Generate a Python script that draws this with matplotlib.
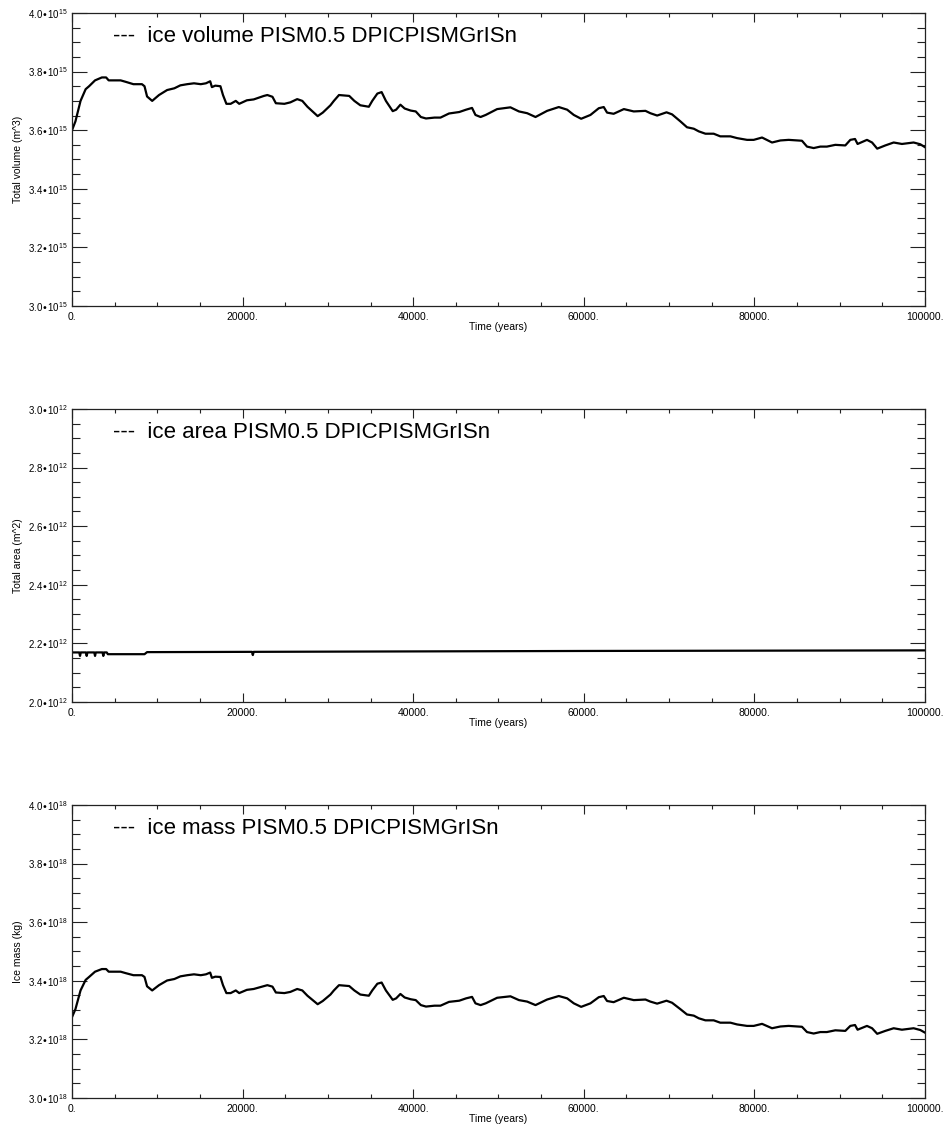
import matplotlib
matplotlib.use("Agg")
import matplotlib.pyplot as plt
from matplotlib.ticker import MultipleLocator, FuncFormatter

plt.rcParams['font.family'] = ['Liberation Sans', 'DejaVu Sans']
plt.rcParams['mathtext.default'] = 'regular'

# time axis (years) for volume / mass curves
years = [0, 400, 1000, 1600, 2000, 2700, 3500, 4000, 4300, 5700,
         6300, 7200, 8200, 8500, 8800, 9400, 10200, 11150, 12000, 12700,
         13500, 14300, 15100, 15700, 16200, 16400, 16800, 17400, 17700, 18100,
         18600, 19200, 19600, 20500, 21300, 22500, 22900, 23500, 23900, 24900,
         25600, 26400, 27000, 27600, 28800, 29400, 30300, 30700, 31300, 32500,
         33100, 33800, 34800, 35200, 35800, 36300, 36800, 37600, 38000, 38500,
         39000, 39700, 40300, 40900, 41500, 42500, 43200, 44200, 45400, 46200,
         46900, 47300, 47900, 48500, 49840, 51400, 52400, 53360, 54340, 55700,
         57070, 58050, 58830, 59690, 60780, 61760, 62340, 62730, 63500, 64700,
         65860, 67230, 67800, 68600, 69700, 70350, 71330, 72100, 72900, 73480,
         74260, 75230, 76000, 77190, 77970, 79140, 79920, 80900, 82070, 83050,
         84020, 85580, 86170, 86950, 87730, 88500, 89490, 90660, 91250, 91800,
         92100, 93200, 93800, 94400, 95350, 96330, 97300, 98670, 99450, 100000]

# total ice volume, units of 1e15 m^3
volume = [3.600, 3.630, 3.700, 3.740, 3.750, 3.770, 3.780, 3.780, 3.770, 3.770,
          3.765, 3.757, 3.757, 3.750, 3.715, 3.700, 3.720, 3.737, 3.743, 3.753,
          3.757, 3.760, 3.757, 3.760, 3.767, 3.747, 3.752, 3.750, 3.720, 3.690,
          3.690, 3.700, 3.690, 3.702, 3.705, 3.717, 3.720, 3.714, 3.692, 3.690,
          3.695, 3.706, 3.700, 3.680, 3.648, 3.660, 3.685, 3.700, 3.720, 3.717,
          3.700, 3.685, 3.680, 3.700, 3.725, 3.730, 3.700, 3.665, 3.670, 3.687,
          3.674, 3.667, 3.664, 3.645, 3.640, 3.643, 3.643, 3.657, 3.662, 3.670,
          3.676, 3.652, 3.645, 3.652, 3.672, 3.678, 3.664, 3.658, 3.645, 3.666,
          3.679, 3.670, 3.652, 3.639, 3.652, 3.675, 3.679, 3.660, 3.656, 3.672,
          3.664, 3.666, 3.658, 3.650, 3.661, 3.654, 3.630, 3.610, 3.605, 3.596,
          3.588, 3.588, 3.579, 3.579, 3.573, 3.567, 3.567, 3.575, 3.558, 3.565,
          3.567, 3.564, 3.544, 3.539, 3.544, 3.544, 3.550, 3.548, 3.567, 3.570,
          3.553, 3.567, 3.558, 3.537, 3.548, 3.558, 3.553, 3.558, 3.552, 3.542]

# ice mass, units of 1e18 kg
mass = [3.276, 3.303, 3.367, 3.403, 3.413, 3.431, 3.440, 3.440, 3.431, 3.431,
        3.426, 3.419, 3.419, 3.413, 3.381, 3.367, 3.385, 3.401, 3.406, 3.415,
        3.419, 3.422, 3.419, 3.422, 3.428, 3.410, 3.414, 3.413, 3.385, 3.358,
        3.358, 3.367, 3.358, 3.369, 3.372, 3.382, 3.385, 3.380, 3.360, 3.358,
        3.362, 3.372, 3.367, 3.349, 3.320, 3.331, 3.353, 3.367, 3.385, 3.382,
        3.367, 3.353, 3.349, 3.367, 3.390, 3.394, 3.367, 3.335, 3.340, 3.355,
        3.343, 3.337, 3.334, 3.317, 3.312, 3.315, 3.315, 3.328, 3.332, 3.340,
        3.345, 3.323, 3.317, 3.323, 3.342, 3.347, 3.334, 3.329, 3.317, 3.336,
        3.348, 3.340, 3.323, 3.311, 3.323, 3.344, 3.348, 3.331, 3.327, 3.342,
        3.334, 3.336, 3.329, 3.322, 3.332, 3.325, 3.303, 3.285, 3.281, 3.272,
        3.265, 3.265, 3.257, 3.257, 3.251, 3.246, 3.246, 3.253, 3.238, 3.244,
        3.246, 3.243, 3.225, 3.220, 3.225, 3.225, 3.231, 3.229, 3.246, 3.249,
        3.233, 3.246, 3.238, 3.219, 3.229, 3.238, 3.233, 3.238, 3.232, 3.223]

# ice area, units of 1e12 m^2
area_years = [0, 850, 940, 1030, 1630, 1720, 1810, 2610, 2700, 2790, 3580,
              3670, 3760, 4070, 4200, 8500, 8800, 21100, 21200, 21300, 60000, 100000]
area = [2.169, 2.169, 2.157, 2.169, 2.169, 2.157, 2.169, 2.169, 2.157, 2.169, 2.169,
        2.157, 2.169, 2.169, 2.163, 2.163, 2.170, 2.171, 2.160, 2.171, 2.174, 2.176]

panels = [
    (years, volume, 15, (3.0, 4.0), 'Total volume (m^3)', '---  ice volume PISM0.5 DPICPISMGrISn'),
    (area_years, area, 12, (2.0, 3.0), 'Total area (m^2)', '---  ice area PISM0.5 DPICPISMGrISn'),
    (years, mass, 18, (3.0, 4.0), 'Ice mass (kg)', '---  ice mass PISM0.5 DPICPISMGrISn'),
]

fig = plt.figure(figsize=(9.45, 11.28), dpi=100)
bottoms = [0.7287, 0.3777, 0.0266]

for (x, y, expo, ylim, ylabel, legend), b in zip(panels, bottoms):
    ax = fig.add_axes([0.0762, b, 0.9026, 0.2598])
    scale = 10.0 ** expo
    ax.plot(x, [v * scale for v in y], color='black', lw=1.6)
    ax.set_xlim(0, 100000)
    ax.set_ylim(ylim[0] * scale, ylim[1] * scale)

    ax.xaxis.set_major_locator(MultipleLocator(20000))
    ax.xaxis.set_minor_locator(MultipleLocator(5000))
    ax.yaxis.set_major_locator(MultipleLocator(0.2 * scale))
    ax.yaxis.set_minor_locator(MultipleLocator(0.05 * scale))
    ax.xaxis.set_major_formatter(FuncFormatter(lambda v, p: f"{v:.0f}."))
    ax.yaxis.set_major_formatter(FuncFormatter(
        lambda v, p, s=scale, e=expo: f"{v / s:.1f}•10$^{{{e}}}$"))

    ax.tick_params(axis='both', which='both', direction='in',
                   top=True, right=True, width=0.8, color='#222222')
    ax.tick_params(axis='x', which='major', length=6.5, labelsize=7.5, pad=4)
    ax.tick_params(axis='x', which='minor', length=3)
    ax.tick_params(axis='y', which='major', length=11, labelsize=7, pad=3)
    ax.tick_params(axis='y', which='minor', length=5.5)
    for sp in ax.spines.values():
        sp.set_linewidth(0.9)
        sp.set_color('#222222')

    ax.set_xlabel('Time (years)', fontsize=7.5)
    ax.xaxis.set_label_coords(0.5, -0.055)
    ax.set_ylabel(ylabel, fontsize=7.5)
    ax.yaxis.set_label_coords(-0.058, 0.5)

    ax.text(0.048, 0.901, legend, transform=ax.transAxes, fontsize=16,
            va='baseline', ha='left')

fig.savefig('out.png', dpi=100)
